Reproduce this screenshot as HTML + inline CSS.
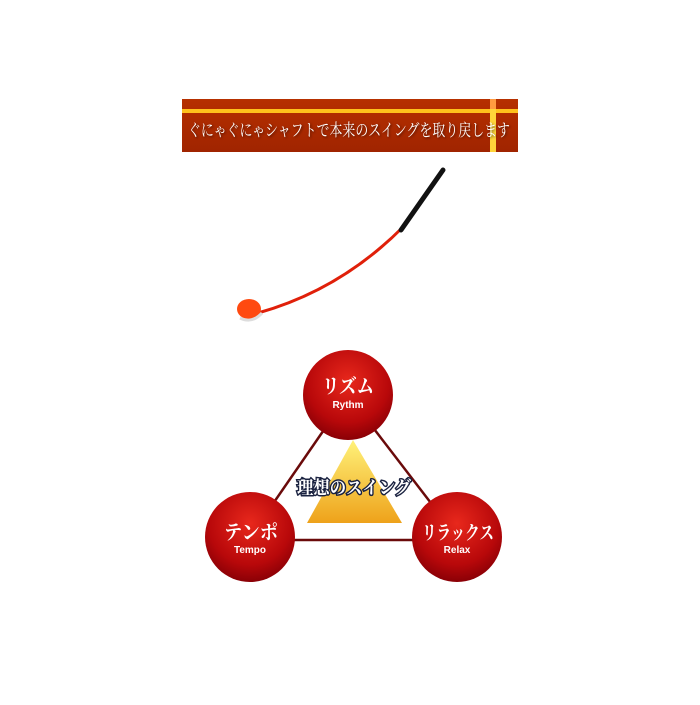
<!DOCTYPE html>
<html><head><meta charset="utf-8"><style>
body{margin:0;width:700px;height:700px;background:#fff;overflow:hidden}
</style></head><body>
<svg width="700" height="700" xmlns="http://www.w3.org/2000/svg">
<defs>
<radialGradient id="cg" cx="0.5" cy="0.35" r="0.65">
<stop offset="0" stop-color="#e8281c"/><stop offset="0.7" stop-color="#b8080a"/><stop offset="1" stop-color="#8a0006"/>
</radialGradient>
<linearGradient id="pg" x1="0" y1="0" x2="0" y2="1">
<stop offset="0" stop-color="#fff27a"/><stop offset="1" stop-color="#eea21a"/>
</linearGradient>
<linearGradient id="bg" x1="0" y1="0" x2="0" y2="1">
<stop offset="0" stop-color="#b63000"/><stop offset="1" stop-color="#a02400"/>
</linearGradient>
<filter id="sh"><feGaussianBlur stdDeviation="1.2"/></filter>
</defs>
<rect x="182" y="99" width="336" height="53" fill="url(#bg)"/>
<rect x="182" y="109" width="336" height="4" fill="#ffc21c"/>
<rect x="490" y="99" width="6" height="53" fill="#ffd43a"/>
<rect x="490" y="99" width="6" height="10" fill="#ff9a40"/>
<text x="189" y="137" textLength="322" lengthAdjust="spacingAndGlyphs" font-family="Liberation Serif,'Noto Serif CJK SC',serif" font-size="17" fill="#000" opacity="0.6" filter="url(#sh)">ぐにゃぐにゃシャフトで本来のスイングを取り戻します</text>
<text x="188" y="136" textLength="322" lengthAdjust="spacingAndGlyphs" font-family="Liberation Serif,'Noto Serif CJK SC',serif" font-size="17" fill="#fff">ぐにゃぐにゃシャフトで本来のスイングを取り戻します</text>
<path d="M258 313 Q340 290 402 228" stroke="#e0200a" stroke-width="3" fill="none"/>
<path d="M401 230 L443 170" stroke="#111" stroke-width="5" stroke-linecap="round"/>
<ellipse cx="249" cy="309" rx="12" ry="10" fill="#ff4a10"/>
<path d="M240 318 Q252 324 262 313" stroke="#ddd" stroke-width="3" fill="none"/>
<g stroke="#6a0a0a" stroke-width="2.5" fill="none">
<line x1="348" y1="395" x2="250" y2="537"/><line x1="348" y1="395" x2="457" y2="537"/><line x1="250" y1="540" x2="457" y2="540"/>
</g>
<polygon points="353,440 402,523 307,523" fill="url(#pg)"/>
<text x="297" y="494" textLength="114" lengthAdjust="spacingAndGlyphs" font-family="Liberation Serif,'Noto Serif CJK SC',serif" font-size="18" font-weight="bold" fill="#1a2240" stroke="#1a2240" stroke-width="3">理想のスイング</text>
<text x="297" y="494" textLength="114" lengthAdjust="spacingAndGlyphs" font-family="Liberation Serif,'Noto Serif CJK SC',serif" font-size="18" font-weight="bold" fill="#fff">理想のスイング</text>
<g font-family="Liberation Serif,'Noto Serif CJK SC',serif" fill="#fff" font-weight="bold">
<circle cx="348" cy="395" r="45" fill="url(#cg)"/>
<text x="322" y="393" font-size="20" textLength="52" lengthAdjust="spacingAndGlyphs">リズム</text>
<text x="348" y="408" text-anchor="middle" font-size="10" font-weight="bold" font-family="Liberation Sans,sans-serif">Rythm</text>
<circle cx="250" cy="537" r="45" fill="url(#cg)"/>
<text x="224" y="539" font-size="20" textLength="54" lengthAdjust="spacingAndGlyphs">テンポ</text>
<text x="250" y="553" text-anchor="middle" font-size="10" font-weight="bold" font-family="Liberation Sans,sans-serif">Tempo</text>
<circle cx="457" cy="537" r="45" fill="url(#cg)"/>
<text x="422" y="539" font-size="19" textLength="72" lengthAdjust="spacingAndGlyphs">リラックス</text>
<text x="457" y="553" text-anchor="middle" font-size="10" font-weight="bold" font-family="Liberation Sans,sans-serif">Relax</text>
</g>
</svg>
</body></html>
